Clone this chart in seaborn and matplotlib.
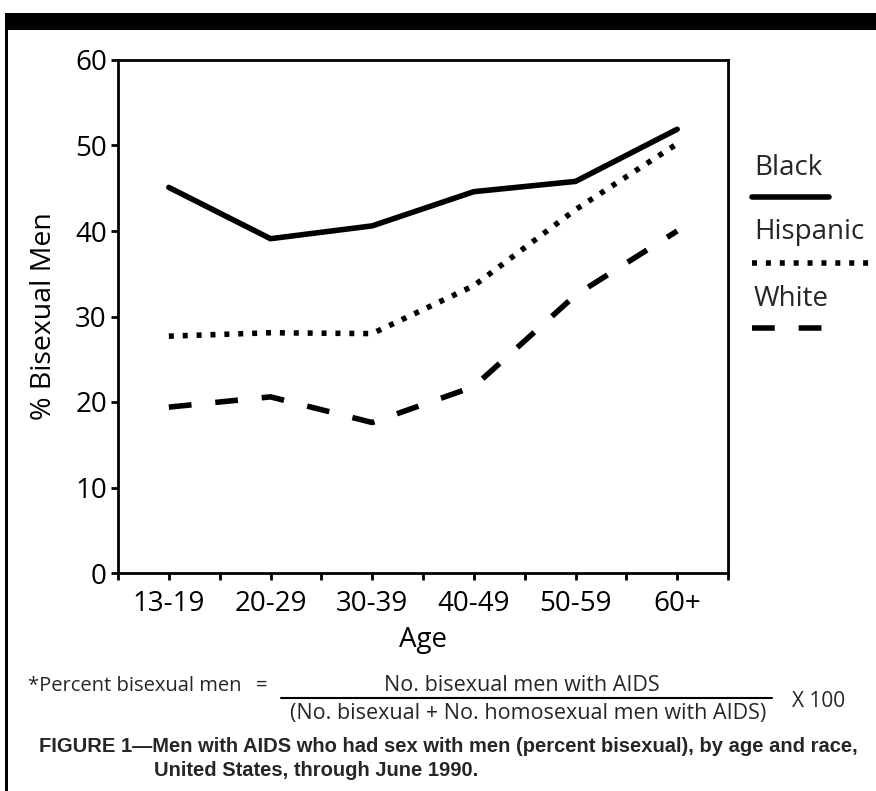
import pandas as pd
import numpy as np
import matplotlib.pyplot as plt
from matplotlib.lines import Line2D
from matplotlib.patches import Rectangle
import seaborn as sns

# Data
ages = ["13-19", "20-29", "30-39", "40-49", "50-59", "60+"]
races = ["Black", "Hispanic", "White"]
black = [45.1, 39.1, 40.6, 44.6, 45.8, 51.9]
hispanic = [27.7, 28.1, 28.0, 33.6, 42.5, 50.2]
white = [19.4, 20.6, 17.6, 21.8, 32.5, 40.0]
y_ticks = [0, 10, 20, 30, 40, 50, 60]

df = pd.DataFrame({
    "Age": ages * 3,
    "Pct": black + hispanic + white,
    "Race": np.repeat(races, len(ages)),
})

sns.set_style("ticks")
plt.rcParams["font.family"] = ["Open Sans", "DejaVu Sans"]

W, H = 876, 791
fig = plt.figure(figsize=(W / 100, H / 100), dpi=100)
fig.patch.set_facecolor("white")

def fx(px):
    return px / W

def fy(py):
    return 1 - py / H

ax = fig.add_axes([fx(118), fy(573), fx(728) - fx(118), fy(60) - fy(573)])

line_styles = {"Black": "", "Hispanic": (0.9, 1.6), "White": (4.1, 4.3)}
sns.lineplot(data=df, x="Age", y="Pct", style="Race", dashes=line_styles,
             color="black", lw=4, legend=False, ax=ax, sort=False)

# Axes look
ax.set_xlim(-0.5, 5.5)
ax.set_ylim(0, 60)
ax.set_yticks(y_ticks)
ax.set_xticks(range(len(ages)))
ax.set_xticklabels(ages)
ax.set_xticks(np.arange(-0.5, 6.0, 1.0), minor=True)
for s in ax.spines.values():
    s.set_linewidth(2)
    s.set_color("black")
ax.tick_params(axis="both", which="both", direction="out", length=5, width=2,
               color="black", labelsize=20, labelcolor="black")
ax.tick_params(axis="x", which="both", pad=7)
ax.tick_params(axis="y", pad=3)
ax.set_xlabel("Age", fontsize=20, labelpad=6, color="black")
ax.set_ylabel("% Bisexual Men", fontsize=20.5, labelpad=12, color="black")

# Legend: label above each line sample
leg_text_y = [175, 239, 306]
leg_line_y = [197, 263, 328]
leg_line_x1 = [829, 874, 822]
for race, ty, ly, x1 in zip(races, leg_text_y, leg_line_y, leg_line_x1):
    fig.text(fx(754), fy(ty), race, fontsize=20, va="baseline", ha="left")
    ln = Line2D([fx(752), fx(x1)], [fy(ly), fy(ly)], transform=fig.transFigure,
                color="black", lw=4)
    if line_styles[race]:
        ln.set_dashes(line_styles[race])
    fig.add_artist(ln)

# Frame decoration: black bar on top, rule on the left
fig.add_artist(Rectangle((fx(5), fy(30)), 1 - fx(5), fy(13) - fy(30),
                         transform=fig.transFigure, color="black", lw=0))
fig.add_artist(Rectangle((fx(5), 0), fx(3), fy(13),
                         transform=fig.transFigure, color="black", lw=0))

# Footnote formula
fig.text(fx(28), fy(691), "*Percent bisexual men", fontsize=14.5, va="baseline")
fig.text(fx(256), fy(691), "=", fontsize=14.5, va="baseline")
fig.text(fx(522), fy(691), "No. bisexual men with AIDS", fontsize=15.5,
         va="baseline", ha="center")
fig.add_artist(Line2D([fx(281), fx(772)], [fy(698), fy(698)],
                      transform=fig.transFigure, color="black", lw=1.5))
fig.text(fx(528), fy(719), "(No. bisexual + No. homosexual men with AIDS)",
         fontsize=15.5, va="baseline", ha="center")
fig.text(fx(792), fy(707), "X 100", fontsize=15, va="baseline")

# Caption
fig.text(fx(39), fy(752),
         "FIGURE 1\u2014Men with AIDS who had sex with men (percent bisexual), by age and race,",
         fontsize=14.5, fontweight="bold", family="Liberation Sans", va="baseline")
fig.text(fx(154), fy(776), "United States, through June 1990.",
         fontsize=14.5, fontweight="bold", family="Liberation Sans", va="baseline")

plt.savefig("out.png", dpi=100)
